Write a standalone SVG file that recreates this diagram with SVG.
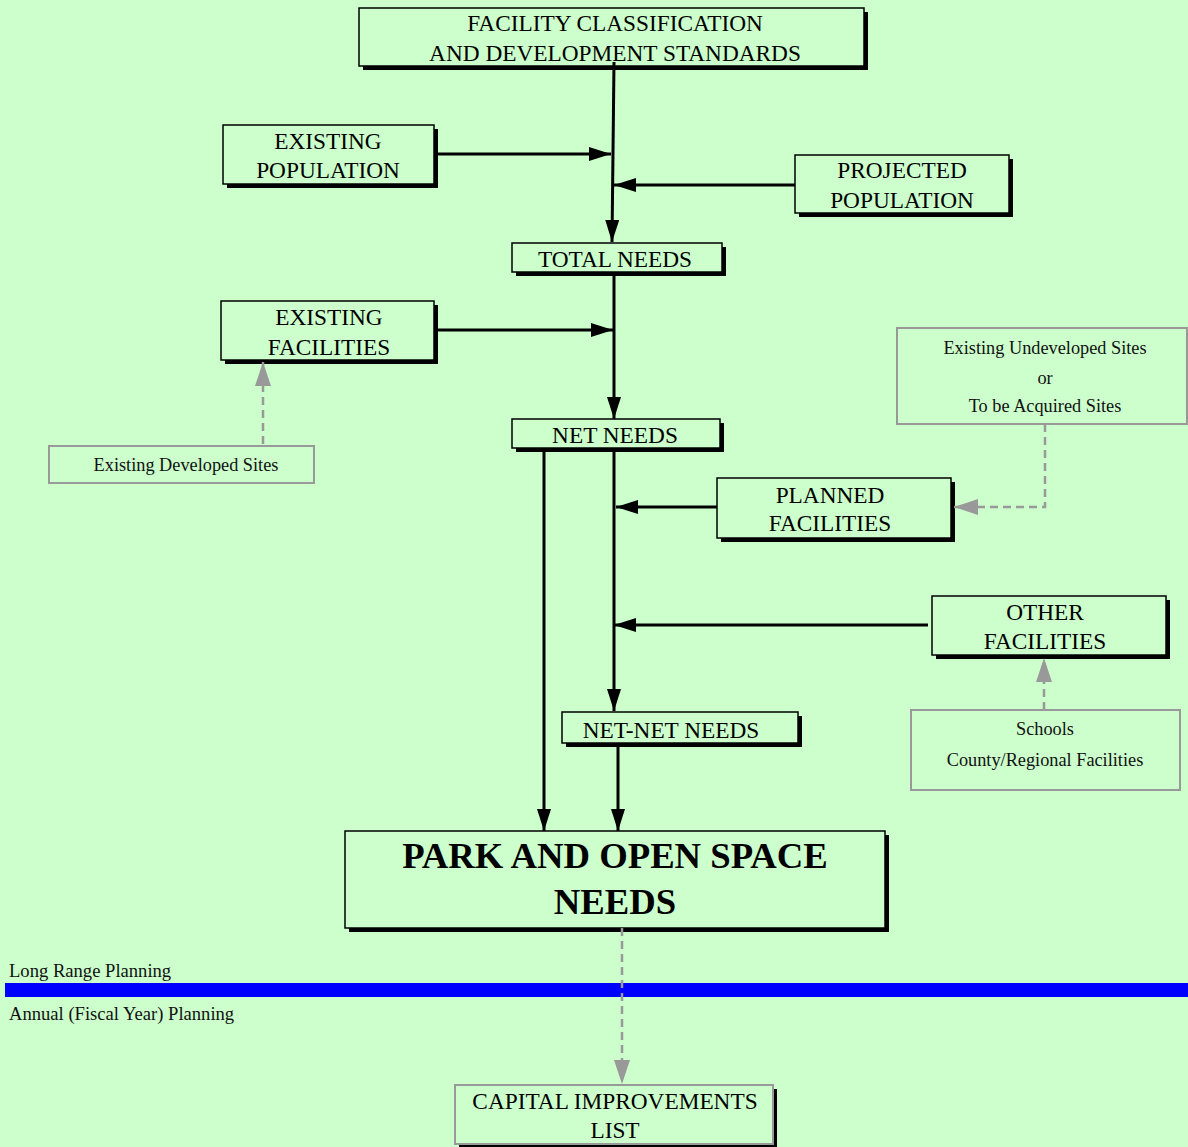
<svg xmlns="http://www.w3.org/2000/svg" width="1188" height="1147" viewBox="0 0 1188 1147">
<style>
.sh{fill:#000}
.bx{fill:#CCFFCC;stroke:#000;stroke-width:1.5}
.gb{fill:#CCFFCC;stroke:#999;stroke-width:2}
.t{font-family:"Liberation Serif","Times New Roman",serif;font-size:23.3px;fill:#000;text-anchor:middle}
.s{font-family:"Liberation Serif","Times New Roman",serif;font-size:18.3px;fill:#111;text-anchor:middle}
.l{font-family:"Liberation Serif","Times New Roman",serif;font-size:18.6px;fill:#111}
.b{font-family:"Liberation Serif","Times New Roman",serif;font-size:36.7px;font-weight:bold;fill:#000;text-anchor:middle}
.c{stroke:#000;stroke-width:3;fill:none;marker-end:url(#ah)}
.d{stroke:#999;stroke-width:2.5;fill:none;stroke-dasharray:8 5;marker-end:url(#gh)}
</style>
<defs>
<marker id="ah" viewBox="0 0 22 14" refX="22" refY="7" markerWidth="22" markerHeight="14" markerUnits="userSpaceOnUse" orient="auto"><path d="M0,0 L22,7 L0,14 z" fill="#000"/></marker>
<marker id="gh" viewBox="0 0 24 16" refX="24" refY="8" markerWidth="24" markerHeight="16" markerUnits="userSpaceOnUse" orient="auto"><path d="M0,0 L24,8 L0,16 z" fill="#999"/></marker>
</defs>
<rect width="1188" height="1147" fill="#CCFFCC"/>
<rect x="5" y="983" width="1183" height="14" fill="#0000FF"/>
<text class="l" x="9" y="977">Long Range Planning</text>
<text class="l" x="9" y="1020">Annual (Fiscal Year) Planning</text>

<g id="n-facility">
<rect class="sh" x="363" y="12" width="505" height="58"/>
<rect class="bx" x="359" y="8" width="505" height="58"/>
<text class="t" x="615" y="31">FACILITY CLASSIFICATION</text>
<text class="t" x="615" y="61">AND DEVELOPMENT STANDARDS</text>
</g>
<g id="n-existpop">
<rect class="sh" x="227" y="129" width="211" height="59"/>
<rect class="bx" x="223" y="125" width="211" height="59"/>
<text class="t" x="328" y="149">EXISTING</text>
<text class="t" x="328" y="178">POPULATION</text>
</g>
<g id="n-projpop">
<rect class="sh" x="799" y="159" width="214" height="58"/>
<rect class="bx" x="795" y="155" width="214" height="58"/>
<text class="t" x="902" y="178">PROJECTED</text>
<text class="t" x="902" y="208">POPULATION</text>
</g>
<g id="n-total">
<rect class="sh" x="516" y="247" width="210" height="29"/>
<rect class="bx" x="512" y="243" width="210" height="29"/>
<text class="t" x="615" y="267">TOTAL NEEDS</text>
</g>
<g id="n-existfac">
<rect class="sh" x="225" y="305" width="213" height="59"/>
<rect class="bx" x="221" y="301" width="213" height="59"/>
<text class="t" x="329" y="325">EXISTING</text>
<text class="t" x="329" y="355">FACILITIES</text>
</g>
<g id="n-devsites">
<rect class="gb" x="49" y="446" width="265" height="37"/>
<text class="s" x="186" y="471">Existing Developed Sites</text>
</g>
<g id="n-undev">
<rect class="gb" x="897" y="328" width="290" height="96"/>
<text class="s" x="1045" y="354">Existing Undeveloped Sites</text>
<text class="s" x="1045" y="384">or</text>
<text class="s" x="1045" y="412">To be Acquired Sites</text>
</g>
<g id="n-net">
<rect class="sh" x="516" y="423" width="208" height="29"/>
<rect class="bx" x="512" y="419" width="208" height="29"/>
<text class="t" x="615" y="443">NET NEEDS</text>
</g>
<g id="n-planned">
<rect class="sh" x="721" y="482" width="234" height="60"/>
<rect class="bx" x="717" y="478" width="234" height="60"/>
<text class="t" x="830" y="503">PLANNED</text>
<text class="t" x="830" y="531">FACILITIES</text>
</g>
<g id="n-other">
<rect class="sh" x="936" y="600" width="234" height="59"/>
<rect class="bx" x="932" y="596" width="234" height="59"/>
<text class="t" x="1045" y="620">OTHER</text>
<text class="t" x="1045" y="649">FACILITIES</text>
</g>
<g id="n-schools">
<rect class="gb" x="911" y="710" width="269" height="80"/>
<text class="s" x="1045" y="735">Schools</text>
<text class="s" x="1045" y="766">County/Regional Facilities</text>
</g>
<g id="n-netnet">
<rect class="sh" x="566" y="716" width="236" height="31"/>
<rect class="bx" x="562" y="712" width="236" height="31"/>
<text class="t" x="671" y="738">NET-NET NEEDS</text>
</g>
<g id="n-park">
<rect class="sh" x="349" y="835" width="540" height="97"/>
<rect class="bx" x="345" y="831" width="540" height="97"/>
<text class="b" x="615" y="868">PARK AND OPEN SPACE</text>
<text class="b" x="615" y="914">NEEDS</text>
</g>
<g id="n-cip">
<rect class="sh" x="459" y="1089" width="318" height="59"/>
<rect class="gb" x="455" y="1085" width="318" height="59"/>
<text class="t" x="615" y="1109">CAPITAL IMPROVEMENTS</text>
<text class="t" x="615" y="1138">LIST</text>
</g>

<g id="connectors">
<line class="c" x1="614" y1="62" x2="612" y2="242"/>
<line class="c" x1="434" y1="154" x2="611" y2="154"/>
<line class="c" x1="795" y1="185" x2="614" y2="185"/>
<line class="c" x1="614" y1="272" x2="614" y2="419"/>
<line class="c" x1="434" y1="330" x2="613" y2="330"/>
<line class="c" x1="614" y1="448" x2="614" y2="711"/>
<line class="c" x1="544" y1="448" x2="544" y2="831"/>
<line class="c" x1="717" y1="507" x2="616" y2="507"/>
<line class="c" x1="928" y1="625" x2="614" y2="625"/>
<line class="c" x1="618" y1="743" x2="618" y2="831"/>
<path class="d" d="M263,444 L263,362"/>
<path class="d" d="M1045,424 L1045,507 L954,507"/>
<path class="d" d="M1044,710 L1044,658"/>
<path class="d" d="M622,928 L622,1084"/>
</g>
</svg>
